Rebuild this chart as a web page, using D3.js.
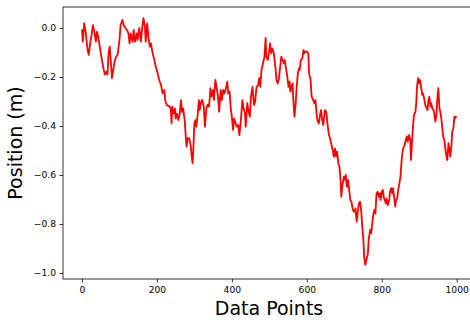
<!DOCTYPE html>
<html>
<head>
<meta charset="utf-8">
<script src="https://cdn.jsdelivr.net/npm/d3@7"></script>
<style>
  body { margin: 0; background: #fff; }
  svg { display: block; font-family: "DejaVu Sans", sans-serif; }
</style>
</head>
<body>
<svg id="chart" width="470" height="320"></svg>
<script>
// values (sample index, position in m)
const pointIndex = [
  0, 2, 6, 10, 15, 18, 22, 25, 29, 33, 37, 40, 44, 46, 49, 53, 58, 61, 65, 68,
  71, 74, 76, 80, 84, 87, 91, 95, 100, 103, 108, 111, 116, 120, 124, 127, 130, 135, 138, 141,
  146, 148, 153, 157, 161, 164, 168, 170, 174, 177, 181, 184, 188, 193, 197, 202, 206, 211, 215, 220,
  222, 226, 233, 237, 239, 241, 245, 248, 250, 254, 257, 261, 264, 267, 270, 274, 277, 279, 282, 286,
  290, 292, 295, 297, 300, 303, 305, 309, 312, 314, 318, 321, 325, 328, 332, 335, 339, 343, 346, 350,
  352, 356, 359, 363, 366, 370, 373, 377, 380, 384, 388, 390, 394, 397, 400, 403, 406, 410, 413, 417,
  420, 424, 428, 431, 435, 437, 441, 444, 448, 451, 455, 459, 462, 466, 470, 473, 476, 479, 483, 487,
  490, 492, 496, 500, 502, 505, 508, 512, 516, 519, 522, 525, 529, 532, 535, 539, 541, 545, 548, 551,
  554, 556, 559, 562, 564, 567, 570, 573, 576, 579, 581, 584, 588, 591, 594, 596, 600, 604, 606, 610,
  613, 617, 620, 623, 626, 628, 632, 636, 638, 641, 644, 648, 652, 655, 659, 662, 666, 669, 672, 675,
  678, 681, 684, 687, 690, 692, 695, 699, 701, 704, 707, 710, 713, 716, 719, 723, 726, 730, 733, 736,
  739, 742, 745, 748, 751, 753, 756, 759, 763, 765, 769, 772, 774, 778, 780, 783, 786, 789, 792, 795,
  797, 800, 803, 805, 808, 811, 813, 816, 820, 822, 825, 828, 830, 833, 836, 838, 841, 844, 847, 850,
  853, 856, 859, 861, 864, 867, 869, 873, 876, 878, 881, 884, 886, 890, 892, 894, 897, 900, 902, 905,
  908, 910, 913, 916, 918, 922, 924, 927, 930, 932, 935, 938, 940, 943, 946, 948, 951, 954, 956, 959,
  962, 964, 967, 970, 972, 975, 978, 980, 983, 986, 988, 991, 994, 996, 999
];
const position = [
  -0.005, -0.056, 0.02, -0.02, -0.09, -0.11, -0.06, -0.035, 0.012, -0.015, -0.056, -0.015, -0.042, -0.063, -0.09, -0.13, -0.17, -0.19, -0.178, -0.19,
  -0.10, -0.076, -0.117, -0.205, -0.165, -0.137, -0.117, -0.11, -0.049, 0.012, 0.033, 0.012, 0.0, -0.008, -0.022, -0.063, -0.022, -0.056, -0.008, -0.056,
  -0.022, -0.049, 0.0, -0.056, 0.005, 0.04, 0.005, -0.056, 0.019, -0.035, -0.076, -0.063, -0.10, -0.13, -0.158, -0.185, -0.212, -0.233, -0.267, -0.253,
  -0.294, -0.314, -0.32, -0.328, -0.389, -0.321, -0.348, -0.328, -0.369, -0.35, -0.376, -0.348, -0.294, -0.342, -0.328, -0.376, -0.444, -0.484, -0.45, -0.45,
  -0.478, -0.512, -0.552, -0.498, -0.389, -0.376, -0.403, -0.348, -0.294, -0.335, -0.30, -0.294, -0.321, -0.403, -0.328, -0.314, -0.321, -0.246, -0.28, -0.253,
  -0.294, -0.212, -0.24, -0.28, -0.342, -0.253, -0.294, -0.253, -0.267, -0.246, -0.219, -0.267, -0.26, -0.328, -0.362, -0.416, -0.369, -0.389, -0.403, -0.396,
  -0.437, -0.376, -0.294, -0.328, -0.348, -0.403, -0.307, -0.335, -0.362, -0.28, -0.24, -0.314, -0.30, -0.24, -0.233, -0.205, -0.24, -0.171, -0.144, -0.117,
  -0.04, -0.117, -0.13, -0.09, -0.063, -0.103, -0.083, -0.103, -0.158, -0.212, -0.226, -0.212, -0.158, -0.117, -0.13, -0.144, -0.13, -0.171, -0.199, -0.24,
  -0.219, -0.26, -0.24, -0.226, -0.294, -0.362, -0.314, -0.24, -0.185, -0.165, -0.171, -0.13, -0.124, -0.09, -0.103, -0.096, -0.096, -0.103, -0.185, -0.212,
  -0.28, -0.294, -0.307, -0.294, -0.348, -0.376, -0.389, -0.348, -0.335, -0.376, -0.396, -0.335, -0.342, -0.389, -0.437, -0.45, -0.478, -0.498, -0.525, -0.491,
  -0.525, -0.505, -0.552, -0.566, -0.62, -0.689, -0.641, -0.607, -0.62, -0.60, -0.648, -0.62, -0.661, -0.702, -0.709, -0.743, -0.75, -0.736, -0.79, -0.75,
  -0.716, -0.709, -0.743, -0.811, -0.865, -0.933, -0.967, -0.947, -0.92, -0.865, -0.824, -0.838, -0.804, -0.757, -0.743, -0.757, -0.675, -0.668, -0.689, -0.675,
  -0.702, -0.668, -0.661, -0.689, -0.702, -0.716, -0.696, -0.723, -0.702, -0.668, -0.654, -0.675, -0.654, -0.689, -0.729, -0.702, -0.696, -0.661, -0.634, -0.607,
  -0.539, -0.498, -0.484, -0.478, -0.457, -0.443, -0.464, -0.437, -0.457, -0.539, -0.457, -0.389, -0.355, -0.341, -0.307, -0.24, -0.205, -0.226, -0.212, -0.24,
  -0.273, -0.267, -0.287, -0.314, -0.321, -0.335, -0.301, -0.28, -0.321, -0.307, -0.328, -0.335, -0.348, -0.382, -0.355, -0.294, -0.246, -0.328, -0.341, -0.369,
  -0.416, -0.443, -0.457, -0.498, -0.518, -0.539, -0.47, -0.49, -0.525, -0.478, -0.423, -0.41, -0.362, -0.369, -0.36
];
const xTicks = [0, 200, 400, 600, 800, 1000];
const yTicks = [0.0, -0.2, -0.4, -0.6, -0.8, -1.0];

const svg = d3.select("#chart");

// pixel placement taken from the reference frame
const x = d3.scaleLinear().domain([0, 1000]).range([82, 456.7]);
const y = d3.scaleLinear().domain([-1, 0]).range([273, 28]);

const frame = {left: 63, right: x(1049), top: 7, bottom: 279};

const data = pointIndex.map((d, i) => [d, position[i]]);

const line = d3.line()
    .x(d => x(d[0]))
    .y(d => y(d[1]));

svg.append("path")
    .datum(data)
    .attr("d", line)
    .attr("fill", "none")
    .attr("stroke", "#ff0000")
    .attr("stroke-width", 1.8)
    .attr("stroke-linejoin", "round");

// axes
const xAxis = d3.axisBottom(x)
    .tickValues(xTicks)
    .tickFormat(d3.format("d"))
    .tickSize(3.5)
    .tickPadding(3.5)
    .tickSizeOuter(0);

const yAxis = d3.axisLeft(y)
    .tickValues(yTicks)
    .tickFormat(d3.format(".1f"))
    .tickSize(3.5)
    .tickPadding(3.5)
    .tickSizeOuter(0);

const gx = svg.append("g")
    .attr("transform", `translate(0,${frame.bottom})`)
    .call(xAxis);
const gy = svg.append("g")
    .attr("transform", `translate(${frame.left},0)`)
    .call(yAxis);

[gx, gy].forEach(g => {
  g.select(".domain").remove();
  g.selectAll(".tick line").attr("stroke", "#000").attr("stroke-width", 0.8);
  g.selectAll(".tick text")
      .attr("fill", "#000")
      .style("font-size", "9.2px")
      .style("font-family", "DejaVu Sans, sans-serif");
});

// frame
svg.append("rect")
    .attr("x", frame.left)
    .attr("y", frame.top)
    .attr("width", frame.right - frame.left)
    .attr("height", frame.bottom - frame.top)
    .attr("fill", "none")
    .attr("stroke", "#000")
    .attr("stroke-width", 0.8);

svg.append("text")
    .attr("x", (frame.left + frame.right) / 2)
    .attr("y", 315)
    .attr("text-anchor", "middle")
    .style("font-size", "19px")
    .text("Data Points");

svg.append("text")
    .attr("transform", `translate(22,${(frame.top + frame.bottom) / 2}) rotate(-90)`)
    .attr("text-anchor", "middle")
    .style("font-size", "19px")
    .text("Position (m)");
</script>
</body>
</html>
